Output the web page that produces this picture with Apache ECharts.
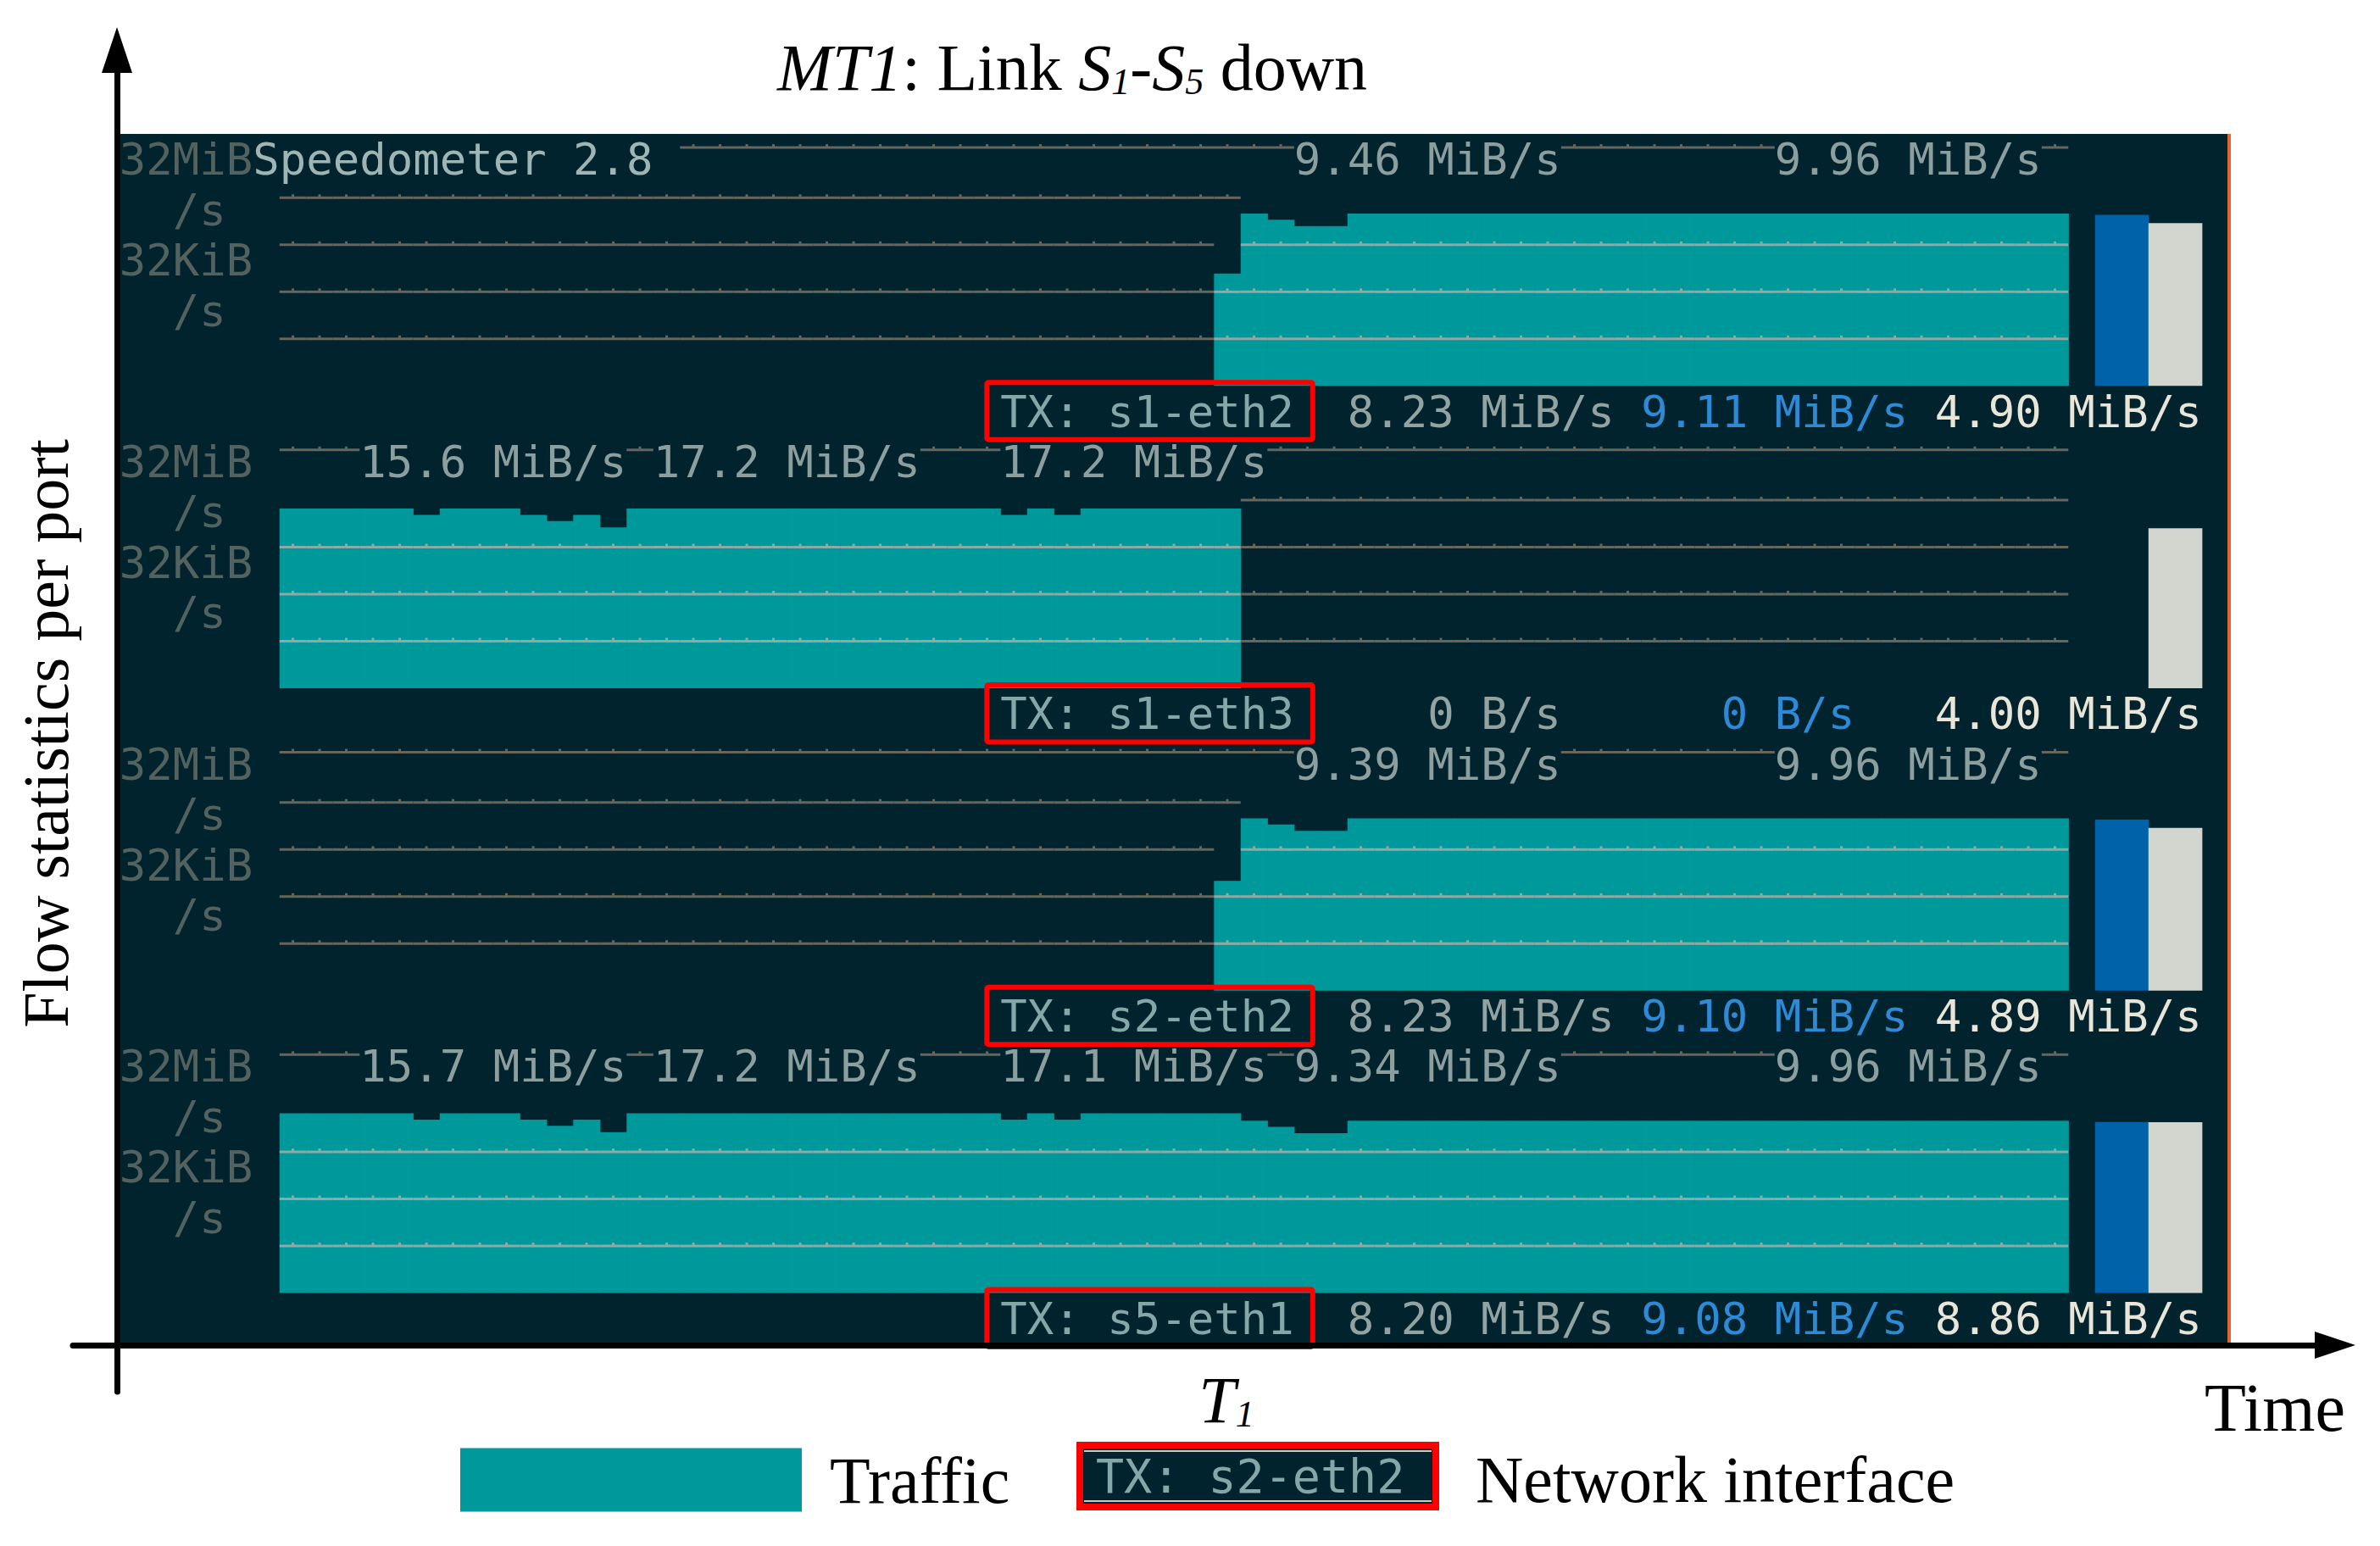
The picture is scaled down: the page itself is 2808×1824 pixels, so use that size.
<!DOCTYPE html>
<html>
<head>
<meta charset="utf-8">
<script src="https://cdn.jsdelivr.net/npm/echarts@6/dist/echarts.min.js"></script>
<style>
html, body { margin: 0; padding: 0; background: #fff; }
#chart { width: 2808px; height: 1824px; }
</style>
</head>
<body>
<div id="chart"></div>
<script>
// speedometer 2.8 screen, one panel per port, traffic per terminal column (cols 6..72) in MiB/s
const ports = ['s1-eth2', 's1-eth3', 's2-eth2', 's5-eth1']

const s1eth2 = [
    0, 0, 0, 0, 0, 0, 0, 0, 0, 0,
    0, 0, 0, 0, 0, 0, 0, 0, 0, 0,
    0, 0, 0, 0, 0, 0, 0, 0, 0, 0,
    0, 0, 0, 0, 0, 0.12, 9.96, 6.3, 3.95, 3.95,
    9.96, 9.96, 9.96, 9.96, 9.96, 9.96, 9.96, 9.96, 9.96, 9.96,
    9.96, 9.96, 9.96, 9.96, 9.96, 9.96, 9.96, 9.96, 9.96, 9.96,
    9.96, 9.96, 9.96, 9.96, 9.96, 9.96, 9.96
]
const s1eth3 = [
    17.2, 17.2, 17.2, 17.2, 17.2, 10.8, 17.2, 17.2, 17.2, 10.8,
    6.8, 10.8, 4.3, 17.2, 17.2, 17.2, 17.2, 17.2, 17.2, 17.2,
    17.2, 17.2, 17.2, 17.2, 17.2, 17.2, 17.2, 10.8, 17.2, 10.8,
    17.2, 17.2, 17.2, 17.2, 17.2, 17.2, 0, 0, 0, 0,
    0, 0, 0, 0, 0, 0, 0, 0, 0, 0,
    0, 0, 0, 0, 0, 0, 0, 0, 0, 0,
    0, 0, 0, 0, 0, 0, 0
]
const s2eth2 = [
    0, 0, 0, 0, 0, 0, 0, 0, 0, 0,
    0, 0, 0, 0, 0, 0, 0, 0, 0, 0,
    0, 0, 0, 0, 0, 0, 0, 0, 0, 0,
    0, 0, 0, 0, 0, 0.10, 9.96, 6.3, 3.95, 3.95,
    9.96, 9.96, 9.96, 9.96, 9.96, 9.96, 9.96, 9.96, 9.96, 9.96,
    9.96, 9.96, 9.96, 9.96, 9.96, 9.96, 9.96, 9.96, 9.96, 9.96,
    9.96, 9.96, 9.96, 9.96, 9.96, 9.96, 9.96
]
const s5eth1 = [
    17.2, 17.2, 17.2, 17.2, 17.2, 10.8, 17.2, 17.2, 17.2, 10.8,
    6.8, 10.8, 4.3, 17.2, 17.2, 17.2, 17.2, 17.2, 17.2, 17.2,
    17.2, 17.2, 17.2, 17.2, 17.2, 17.2, 17.2, 10.8, 17.2, 10.8,
    17.2, 17.2, 17.2, 17.2, 17.2, 17.2, 9.96, 6.3, 3.95, 3.95,
    9.96, 9.96, 9.96, 9.96, 9.96, 9.96, 9.96, 9.96, 9.96, 9.96,
    9.96, 9.96, 9.96, 9.96, 9.96, 9.96, 9.96, 9.96, 9.96, 9.96,
    9.96, 9.96, 9.96, 9.96, 9.96, 9.96, 9.96
]
const traffic = [s1eth2, s1eth3, s2eth2, s5eth1]

// the two level bars on the right (MiB/s)
const avgBar = [9.11, 0, 9.10, 9.08]
const lastBar = [4.90, 4.00, 4.89, 8.86]

// TX line texts
const currentRate = ['8.23 MiB/s', '0 B/s', '8.23 MiB/s', '8.20 MiB/s']
const averageRate = ['9.11 MiB/s', '0 B/s', '9.10 MiB/s', '9.08 MiB/s']
const lastRate = ['4.90 MiB/s', '4.00 MiB/s', '4.89 MiB/s', '8.86 MiB/s']

// peak labels on the top row of each panel: [column, text]
const peakLabels = [
    [[44, '9.46 MiB/s'], [62, '9.96 MiB/s']],
    [[9, '15.6 MiB/s'], [20, '17.2 MiB/s'], [33, '17.2 MiB/s']],
    [[44, '9.39 MiB/s'], [62, '9.96 MiB/s']],
    [[9, '15.7 MiB/s'], [20, '17.2 MiB/s'], [33, '17.1 MiB/s'], [44, '9.34 MiB/s'], [62, '9.96 MiB/s']]
]
// top row line runs [from col, to col]
const topRuns = [
    [[21, 43], [54, 61], [72, 72]],
    [[6, 8], [19, 19], [30, 32], [43, 72]],
    [[6, 43], [54, 61], [72, 72]],
    [[6, 8], [19, 19], [30, 32], [43, 43], [54, 61], [72, 72]]
]
const scaleLabels = ['32MiB', '/s', '32KiB', '/s']
// log scale lines (B/s) and the terminal row they sit in
const scaleLines = [[33554432, 1], [1048576, 2], [32768, 3], [1024, 4]]

const MiB = 1048576
const CW = 31.5, RH = 1427 / 24
const TL = 140.8, TT = 158
const MONO = 'DejaVu Sans Mono', SERIF = 'Liberation Serif'
const MONO_SIZE = 52.3

const BG = '#01232e', TEAL = '#00999b'
const DARK_LINE = '#66665c', LIGHT_LINE = '#8eaaa7'
const DIM = '#53625e', TITLE = '#9fb4b4', PEAK = '#8c9e9d', GREY = '#93a3a2'
const BLUE = '#2f8ad6', WHITE = '#e9e5d9', TXC = '#84a8a7', RED = '#ff0000'

// terminal texts
const termText = []
ports.forEach((port, p) => {
    const r0 = p * 6
    termText.push({col: 0, row: r0, text: scaleLabels[0], color: DIM})
    termText.push({col: 2, row: r0 + 1, text: scaleLabels[1], color: DIM})
    termText.push({col: 0, row: r0 + 2, text: scaleLabels[2], color: DIM})
    termText.push({col: 2, row: r0 + 3, text: scaleLabels[3], color: DIM})
    if (p === 0) termText.push({col: 5, row: r0, text: 'Speedometer 2.8', color: TITLE})
    peakLabels[p].forEach(([c, s]) => termText.push({col: c, row: r0, text: s, color: PEAK}))
    termText.push({col: 33, row: r0 + 5, text: 'TX: ' + port, color: TXC, box: true})
    const rate = (base, s, color) => {
        const num = s.split(' ')[0]
        termText.push({col: base + 4 - num.length, row: r0 + 5, text: s, color: color})
    }
    rate(46, currentRate[p], GREY)
    rate(57, averageRate[p], BLUE)
    rate(68, lastRate[p], WHITE)
})

function renderTermText(params, api) {
    const t = termText[params.dataIndex]
    const p = api.coord([t.col, t.row + 0.5])
    const text = {
        type: 'text', x: p[0], y: p[1],
        style: {text: t.text, fill: t.color, fontSize: MONO_SIZE, fontFamily: MONO, align: 'left', verticalAlign: 'middle'}
    }
    if (!t.box) return text
    const top = api.coord([t.col, t.row])[1]
    const q = api.coord([t.col + t.text.length, t.row + 1])
    return {
        type: 'group',
        children: [text, {
            type: 'rect',
            shape: {x: p[0] - 16, y: top - 4, width: q[0] - p[0] + 38, height: q[1] - top + 8, r: 2},
            style: {fill: 'none', stroke: RED, lineWidth: 6}
        }]
    }
}

function renderRun(params, api) {
    const c0 = api.value(0), c1 = api.value(1), row = api.value(2)
    const a = api.coord([c0, row + 0.27]), b = api.coord([c1 + 1, row + 0.27])
    const children = [{type: 'line', shape: {x1: a[0], y1: a[1], x2: b[0], y2: b[1]}, style: {stroke: DARK_LINE, lineWidth: 3}}]
    for (let c = c0; c <= c1; c++) {
        const m = api.coord([c + 0.5, row + 0.27])
        children.push({type: 'rect', shape: {x: m[0] - 1.5, y: m[1] - 4, width: 3, height: 3}, style: {fill: DARK_LINE}})
    }
    return {type: 'group', children: children}
}

function renderBar(params, api) {
    const a = api.coord([api.value(0), api.value(2)])
    const b = api.coord([api.value(1), 32])
    return {
        type: 'rect',
        shape: {x: a[0], y: a[1], width: b[0] - a[0] + 0.6, height: b[1] - a[1]},
        style: {fill: api.visual('color')}
    }
}

function renderScale(params, api) {
    const x = api.value(0), v = api.value(1)
    const cs = params.coordSys
    const bottom = cs.y + cs.height
    const fillTop = v > 0 ? api.coord([x, v])[1] : bottom + 1
    const xa = api.coord([x, 32])[0], xb = api.coord([x + 1, 32])[0]
    const children = []
    scaleLines.forEach(([val, row]) => {
        const rowTop = bottom - (5 - row) * RH
        let color
        if (fillTop <= rowTop) color = LIGHT_LINE
        else if (fillTop < rowTop + RH) return
        else color = DARK_LINE
        const y = api.coord([x, val])[1]
        children.push({type: 'line', shape: {x1: xa, y1: y, x2: xb, y2: y}, style: {stroke: color, lineWidth: 3}})
        children.push({type: 'rect', shape: {x: (xa + xb) / 2 - 1.5, y: y - 4, width: 3, height: 3}, style: {fill: color}})
    })
    return {type: 'group', children: children}
}

const grids = [
    {left: 86, right: 53, top: 59, bottom: 182},
    {left: TL, top: TT, width: 79 * CW, height: 24 * RH, show: true, backgroundColor: BG, borderWidth: 0}
]
const xAxes = [
    {
        gridIndex: 0, type: 'value', min: 0, max: 1, offset: -55, z: 6,
        axisLine: {show: true, onZero: false, lineStyle: {color: '#000', width: 7}, symbol: ['none', 'triangle'], symbolSize: [32, 48]},
        axisTick: {show: false}, axisLabel: {show: false}, splitLine: {show: false},
        name: 'Time', nameLocation: 'end', nameGap: 12,
        nameTextStyle: {fontFamily: SERIF, fontSize: 80, color: '#000', align: 'right', verticalAlign: 'top', padding: [34, 0, 0, 0]}
    },
    {gridIndex: 1, type: 'value', min: 0, max: 79, show: false}
]
const yAxes = [
    {
        gridIndex: 0, type: 'value', min: 0, max: 1, offset: -52, z: 6,
        axisLine: {show: true, onZero: false, lineStyle: {color: '#000', width: 7}, symbol: ['none', 'triangle'], symbolSize: [36, 54]},
        axisTick: {show: false}, axisLabel: {show: false}, splitLine: {show: false},
        name: 'Flow statistics per port', nameLocation: 'middle', nameGap: 84, nameRotate: 90,
        nameTextStyle: {fontFamily: SERIF, fontSize: 76, color: '#000', verticalAlign: 'middle', padding: [0, 30, 0, 0]}
    },
    {gridIndex: 1, type: 'value', min: 0, max: 24, inverse: true, show: false}
]
const series = [
    {
        type: 'custom', name: 'terminal', xAxisIndex: 1, yAxisIndex: 1, z: 4, silent: true,
        renderItem: renderTermText,
        data: termText.map(t => [t.col, t.row]),
        markLine: {
            silent: true, symbol: 'none', label: {show: false},
            lineStyle: {color: '#e5672e', width: 4, type: 'solid', opacity: 1},
            data: [{xAxis: 79}]
        }
    }
]

ports.forEach((port, p) => {
    const g = p + 2
    grids.push({left: TL + 6 * CW, width: 72 * CW, top: TT + p * 6 * RH + 5 * RH - 222, height: 222})
    xAxes.push({gridIndex: g, type: 'value', min: 6, max: 78, show: false})
    yAxes.push({gridIndex: g, type: 'log', logBase: 2, min: 32, max: 33554432, show: false})

    const fill = []
    traffic[p].forEach((v, i) => { if (v > 0) fill.push([6 + i, 7 + i, v * MiB]) })
    series.push({
        type: 'custom', name: 'Traffic', xAxisIndex: g, yAxisIndex: g, z: 2, silent: true,
        itemStyle: {color: TEAL}, renderItem: renderBar, data: fill
    })
    series.push({
        type: 'custom', name: 'Average', xAxisIndex: g, yAxisIndex: g, z: 2, silent: true,
        itemStyle: {color: '#0062a8'}, renderItem: renderBar,
        data: avgBar[p] > 0 ? [[74, 76, avgBar[p] * MiB]] : []
    })
    series.push({
        type: 'custom', name: 'Last', xAxisIndex: g, yAxisIndex: g, z: 2, silent: true,
        itemStyle: {color: '#d3d6cf'}, renderItem: renderBar,
        data: [[76, 78, lastBar[p] * MiB]]
    })
    series.push({
        type: 'custom', name: 'scale', xAxisIndex: g, yAxisIndex: g, z: 3, silent: true,
        renderItem: renderScale,
        data: traffic[p].map((v, i) => [6 + i, v * MiB])
    })
    series.push({
        type: 'custom', name: 'top', xAxisIndex: 1, yAxisIndex: 1, z: 3, silent: true,
        renderItem: renderRun,
        data: topRuns[p].map(([a, b]) => [a, b, p * 6])
    })
})

const chart = echarts.init(document.getElementById('chart'), null, {renderer: 'svg'})
chart.setOption({
    backgroundColor: '#fff',
    animation: false,
    grid: grids,
    xAxis: xAxes,
    yAxis: yAxes,
    legend: {
        data: [{name: 'Traffic', icon: 'rect'}],
        left: 543, top: 1707, padding: 0,
        itemWidth: 403, itemHeight: 75, selectedMode: false,
        textStyle: {fontFamily: SERIF, fontSize: 78, color: '#000', padding: [0, 0, 0, 28]}
    },
    graphic: [
        {
            type: 'text', x: 1265, y: 79, z: 10,
            style: {
                text: '{i|MT1}: Link {i|S}{s|1}-{i|S}{s|5} down',
                fontFamily: SERIF, fontSize: 78, fill: '#000', align: 'center', verticalAlign: 'middle',
                rich: {
                    i: {fontFamily: SERIF, fontSize: 78, fontStyle: 'italic'},
                    s: {fontFamily: SERIF, fontSize: 44, fontStyle: 'italic', verticalAlign: 'bottom'}
                }
            }
        },
        {
            type: 'text', x: 1447, y: 1651, z: 10,
            style: {
                text: '{t|T}{s|1}', align: 'center', verticalAlign: 'middle', fill: '#000',
                rich: {
                    t: {fontFamily: SERIF, fontSize: 78, fontStyle: 'italic'},
                    s: {fontFamily: SERIF, fontSize: 44, fontStyle: 'italic', verticalAlign: 'bottom'}
                }
            }
        },
        {
            // faint scale lines inside the legend swatch
            type: 'group', z: 10,
            children: [
                {type: 'line', shape: {x1: 543, y1: 1721, x2: 946, y2: 1721}, style: {stroke: LIGHT_LINE, lineWidth: 2}},
                {type: 'line', shape: {x1: 543, y1: 1739, x2: 946, y2: 1739}, style: {stroke: LIGHT_LINE, lineWidth: 2}},
                {type: 'line', shape: {x1: 543, y1: 1764, x2: 946, y2: 1764}, style: {stroke: LIGHT_LINE, lineWidth: 2}}
            ]
        },
        {
            type: 'group', z: 10,
            children: [
                {type: 'rect', shape: {x: 1274, y: 1705, width: 420, height: 73}, style: {fill: BG, stroke: RED, lineWidth: 8}},
                {type: 'line', shape: {x1: 1279, y1: 1712, x2: 1689, y2: 1712}, style: {stroke: '#c9ccc6', lineWidth: 2}},
                {type: 'line', shape: {x1: 1279, y1: 1771, x2: 1689, y2: 1771}, style: {stroke: '#c9ccc6', lineWidth: 2}},
                {type: 'text', x: 1293, y: 1742, style: {text: 'TX: s2-eth2', fill: TXC, fontFamily: MONO, fontSize: 55, align: 'left', verticalAlign: 'middle'}},
                {type: 'text', x: 1741, y: 1745, style: {text: 'Network interface', fill: '#000', fontFamily: SERIF, fontSize: 78, align: 'left', verticalAlign: 'middle'}}
            ]
        }
    ],
    series: series
})
</script>
</body>
</html>
